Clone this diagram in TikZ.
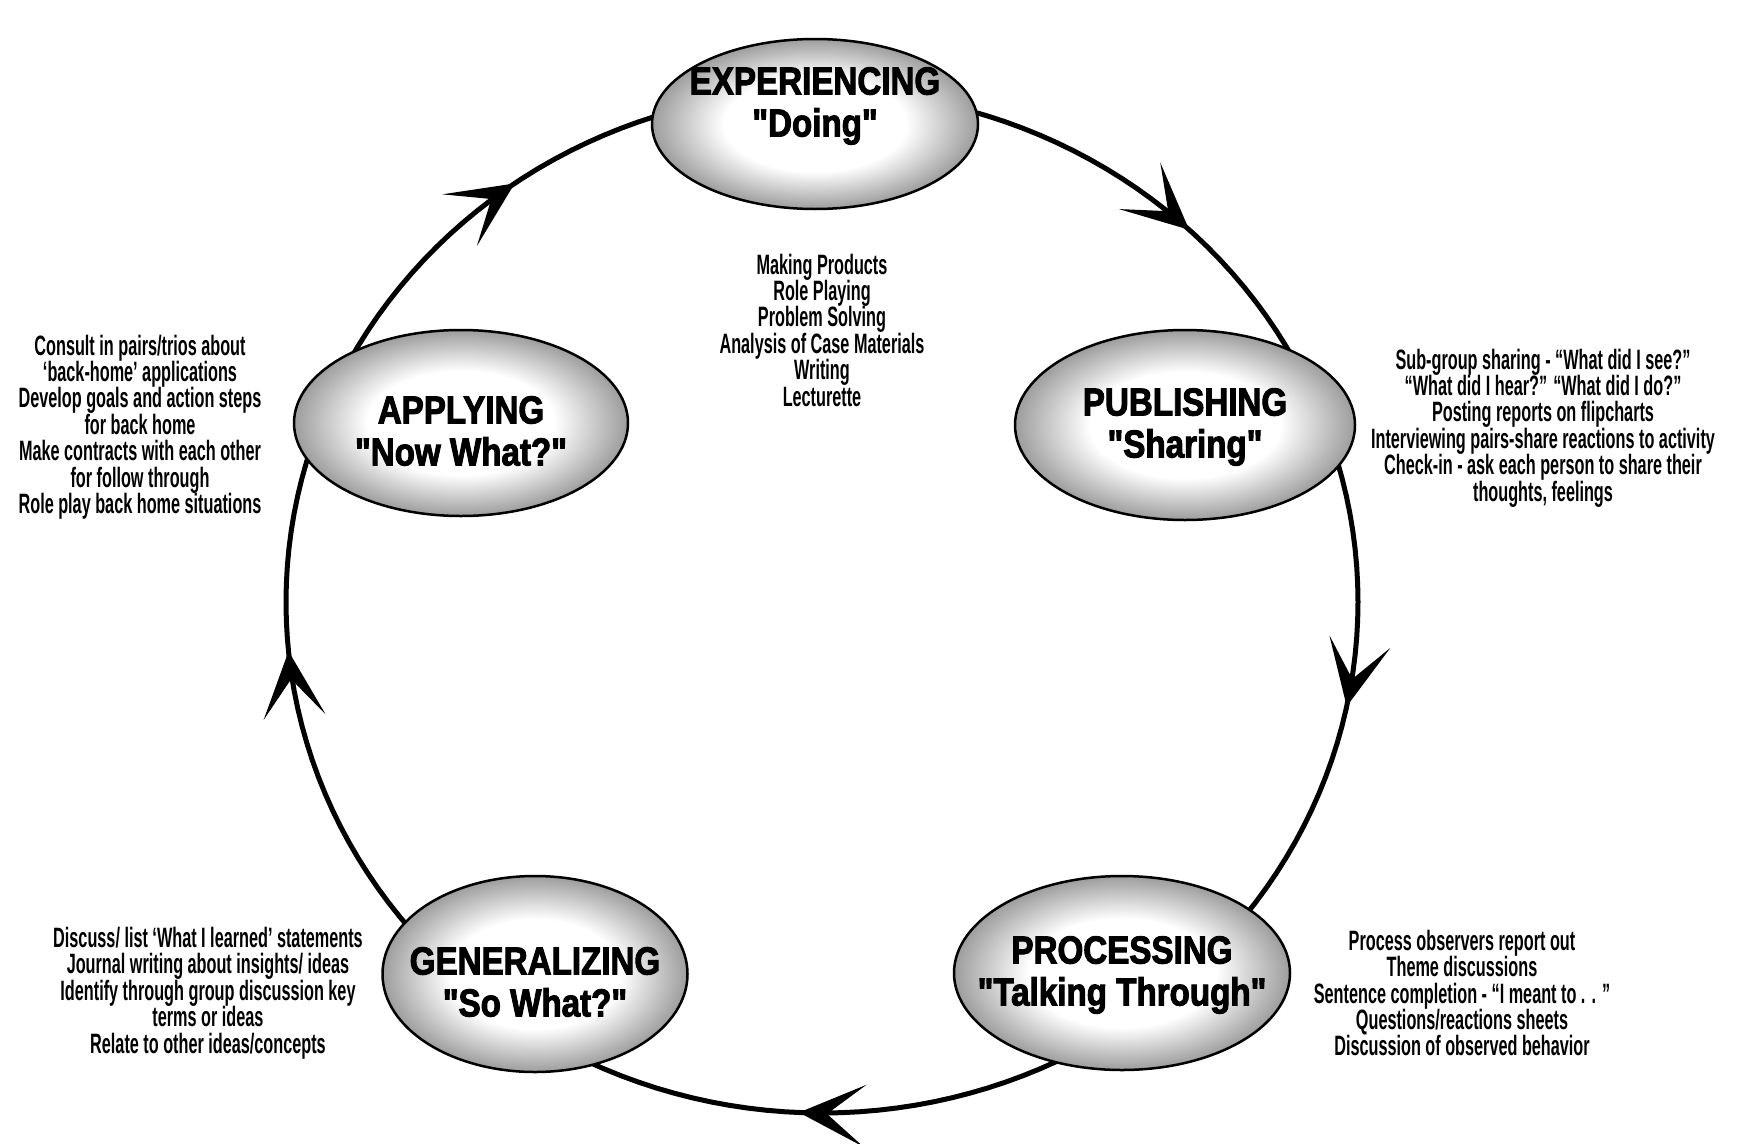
\documentclass[tikz,border=0pt]{standalone}
\usepackage{fontspec}
\setmainfont{Liberation Sans}
\newfontfamily\titlefont{Liberation Sans Bold}[FakeStretch=0.85, FakeBold=2.5]
\newfontfamily\notefont{Liberation Sans Bold}[FakeStretch=0.58]
\usetikzlibrary{arrows.meta,decorations.markings,backgrounds,shapes.geometric}
\lineskiplimit=-100pt
\pgfdeclareradialshading{halo}{\pgfpoint{0bp}{0bp}}{color(0bp)=(white); color(14bp)=(white); color(26bp)=(black!42); color(36bp)=(black!64); color(50bp)=(black!70)}
\begin{document}
\begin{tikzpicture}[x=1pt,y=-1pt,
  stage/.style={ellipse, draw=black, line width=2.5pt, shade, shading=halo, inner sep=0pt},
  stagetext/.style={align=center, inner sep=0pt, font=\titlefont\fontsize{39}{42}\selectfont},
  note/.style={align=center, inner sep=0pt, font=\notefont\fontsize{28}{26.4}\selectfont},
  cycleline/.style={line width=5pt},
  headtip/.tip={Stealth[length=66pt, width=62pt, inset=38pt]}]
\useasboundingbox (0,0) rectangle (1739,1143);

\node[stage, minimum width=326pt, minimum height=170pt] (exp) at (815,124) {};
\node[stage, minimum width=340pt, minimum height=190pt] (pub) at (1185,425) {};
\node[stage, minimum width=336pt, minimum height=194pt] (pro) at (1122,973) {};
\node[stage, minimum width=305pt, minimum height=196pt] (gen) at (535,974) {};
\node[stage, minimum width=334pt, minimum height=186pt] (app) at (461,423) {};

\node[stagetext] (expt) at ([yshift=18pt]exp.center) {EXPERIENCING\\"Doing"};
\node[stagetext] (pubt) at ([yshift=-2pt]pub.center) {PUBLISHING\\"Sharing"};
\node[stagetext] (prot) at ([yshift=-2pt]pro.center) {PROCESSING\\"Talking Through"};
\node[stagetext] (gent) at ([yshift=-8pt]gen.center) {GENERALIZING\\"So What?"};
\node[stagetext] (appt) at ([yshift=-8pt]app.center) {APPLYING\\"Now What?"};

\node[note] (expn) at (822,330) {Making Products\\Role Playing\\Problem Solving\\Analysis of Case Materials\\Writing\\Lecturette};
\node[note] (appn) at (140,427) {Consult in pairs/trios about\\‘back-home’ applications\\Develop goals and action steps\\for back home\\Make contracts with each other\\for follow through\\Role play back home situations};
\node[note] (pubn) at (1543,428) {Sub-group sharing - “What did I see?”\\“What did I hear?” “What did I do?”\\Posting reports on flipcharts\\Interviewing pairs-share reactions to activity\\Check-in - ask each person to share their\\thoughts, feelings};
\node[note] (genn) at (208,993) {Discuss/ list ‘What I learned’ statements\\Journal writing about insights/ ideas\\Identify through group discussion key\\terms or ideas\\Relate to other ideas/concepts};
\node[note] (pron) at (1462,993) {Process observers report out\\Theme discussions\\Sentence completion - “I meant to . . ”\\Questions/reactions sheets\\Discussion of observed behavior};

\begin{scope}[on background layer]
\draw[cycleline, postaction={decorate}, decoration={markings,
    mark=at position 0.032 with {\arrow{headtip}},
    mark=at position 0.257 with {\arrow{headtip}},
    mark=at position 0.485 with {\arrow{headtip}},
    mark=at position 0.651 with {\arrow{headtip}},
    mark=at position 0.872 with {\arrow{headtip}}}]
  plot[domain=0:360, samples=181] ({822+536*cos(\x)}, {602+511*sin(\x)}) -- cycle;
\end{scope}
\end{tikzpicture}
\end{document}
